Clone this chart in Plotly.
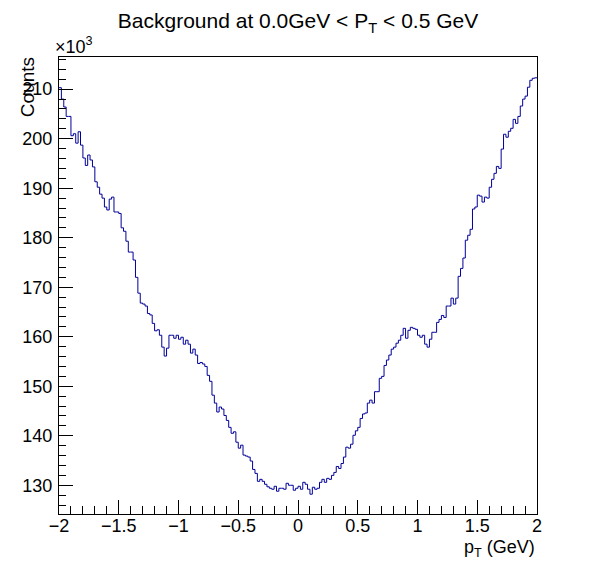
import numpy as np
import plotly.graph_objects as go

# histogram binning: 200 bins between -2 and 2 GeV
x_lo = -2.0
x_hi = 2.0
n_bins = 200

# counts per bin, in units of 10^3
counts = [
    210.3, 208.0, 206.4, 204.5, 204.5, 200.6, 201.0, 199.1, 201.4, 198.7,
    196.1, 194.6, 196.7, 195.7, 194.3, 191.3, 190.2, 188.8, 188.0, 186.2,
    185.6, 187.8, 188.2, 185.2, 185.2, 184.9, 182.0, 181.3, 179.3, 177.1,
    177.1, 175.5, 172.0, 168.8, 166.8, 166.6, 166.2, 164.7, 164.4, 162.7,
    161.2, 161.4, 160.3, 157.9, 156.1, 157.7, 160.3, 160.3, 159.7, 160.3,
    159.5, 159.9, 158.5, 159.3, 158.5, 156.7, 157.5, 156.3, 154.6, 154.8,
    154.5, 154.0, 152.2, 151.0, 148.2, 146.6, 144.8, 145.8, 145.4, 144.1,
    143.1, 141.7, 140.5, 140.8, 138.7, 137.5, 138.1, 136.1, 135.9, 135.7,
    134.9, 133.2, 132.4, 130.8, 131.2, 130.8, 130.2, 129.7, 129.4, 129.2,
    129.8, 128.8, 129.4, 129.4, 129.2, 130.4, 130.0, 130.0, 129.0, 129.4,
    129.8, 129.2, 130.6, 130.2, 129.2, 128.2, 129.6, 129.2, 129.4, 130.6,
    131.2, 130.6, 131.4, 131.2, 132.0, 132.6, 133.8, 133.4, 134.4, 135.7,
    137.7, 137.5, 138.3, 140.1, 141.0, 141.7, 143.5, 144.4, 144.6, 146.6,
    147.2, 146.6, 148.9, 148.9, 151.6, 152.0, 154.2, 155.3, 156.3, 157.5,
    157.9, 158.7, 159.3, 160.3, 161.7, 159.7, 161.3, 161.9, 161.7, 161.5,
    160.3, 159.9, 160.3, 158.5, 157.9, 159.5, 160.9, 160.9, 162.9, 163.5,
    164.3, 163.9, 166.2, 166.2, 167.8, 166.6, 167.8, 172.2, 173.8, 175.9,
    179.5, 180.5, 181.7, 185.8, 186.2, 188.6, 188.4, 187.2, 188.2, 188.0,
    190.2, 191.8, 193.0, 194.4, 194.0, 197.9, 200.9, 200.3, 201.5, 202.1,
    203.9, 203.1, 204.5, 206.6, 208.0, 208.6, 210.4, 211.8, 212.2, 212.3,
]

x_ticks = [-2, -1.5, -1, -0.5, 0, 0.5, 1, 1.5, 2]
x_tick_text = ["\u22122", "\u22121.5", "\u22121", "\u22120.5", "0", "0.5", "1", "1.5", "2"]
y_ticks = [130, 140, 150, 160, 170, 180, 190, 200, 210]

edges = np.linspace(x_lo, x_hi, n_bins + 1)
# step outline: repeat last value so the final bin is closed at x_hi
step_x = list(edges)
step_y = counts + [counts[-1]]

font = "Liberation Sans, Arial, Helvetica, sans-serif"

fig = go.Figure()
fig.add_trace(go.Scatter(
    x=step_x, y=step_y, mode="lines",
    line=dict(color="#000099", width=1, shape="hv"),
    hoverinfo="skip",
))

# page body adds an 8px offset, so the figure is a bit smaller than the window
fig.update_layout(
    width=588, height=564,
    paper_bgcolor="white", plot_bgcolor="white",
    margin=dict(l=51, r=59, t=49, b=58),
    showlegend=False,
    font=dict(family=font, size=18, color="black"),
    title=dict(
        text="Background at 0.0GeV < P<sub>T</sub> < 0.5 GeV",
        x=(298 - 8) / 588, xanchor="center", y=1 - 13 / 564, yanchor="middle",
        font=dict(family=font, size=21, color="black"),
    ),
)

fig.update_xaxes(
    range=[x_lo, x_hi],
    tickvals=x_ticks, ticktext=x_tick_text,
    ticks="inside", ticklen=14, tickwidth=1, tickcolor="black",
    minor=dict(dtick=0.1, ticks="inside", ticklen=8, tickwidth=1, tickcolor="black", showgrid=False),
    showline=True, linecolor="black", linewidth=1, mirror=True,
    showgrid=False, zeroline=False,
    tickfont=dict(family=font, size=18),
    ticklabelstandoff=-5,
)
fig.update_yaxes(
    range=[124.2, 216.5],
    tickvals=y_ticks,
    ticks="inside", ticklen=14, tickwidth=1, tickcolor="black",
    minor=dict(dtick=2, ticks="inside", ticklen=7, tickwidth=1, tickcolor="black", showgrid=False),
    showline=True, linecolor="black", linewidth=1, mirror=True,
    showgrid=False, zeroline=False,
    tickfont=dict(family=font, size=18),
    ticklabelstandoff=2,
)

fig.add_annotation(
    text="Counts", textangle=-90,
    xref="paper", yref="paper", x=-0.066, y=1.005,
    xanchor="center", yanchor="top", showarrow=False,
    font=dict(family=font, size=19),
)
fig.add_annotation(
    text="\u00d710<sup>3</sup>",
    xref="paper", yref="paper", x=-0.012, y=0.995,
    xanchor="left", yanchor="bottom", showarrow=False,
    font=dict(family=font, size=18),
)
fig.add_annotation(
    text="p<sub>T</sub> (GeV)",
    xref="paper", yref="paper", x=1.0, y=-0.046,
    xanchor="right", yanchor="top", showarrow=False,
    font=dict(family=font, size=18),
)

fig.write_html("out.html")
